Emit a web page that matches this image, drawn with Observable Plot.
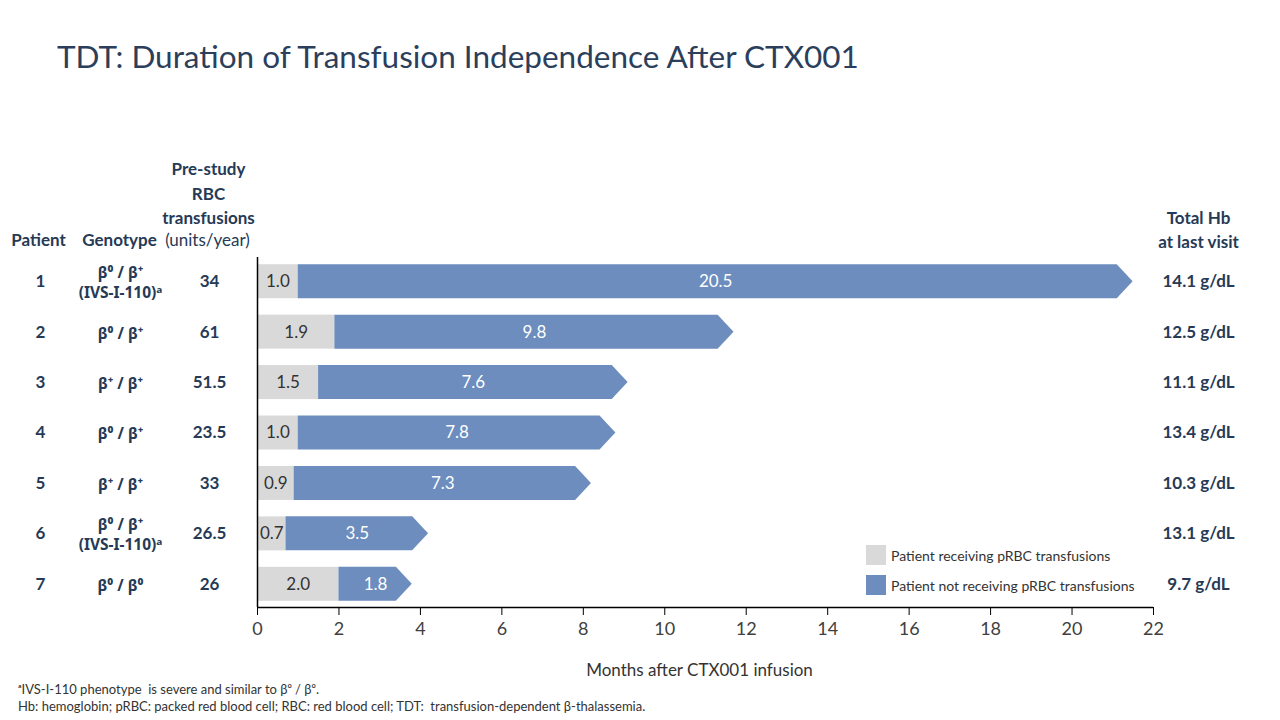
<!DOCTYPE html>
<html>
<head>
<meta charset="utf-8">
<script src="https://cdn.jsdelivr.net/npm/d3@7"></script>
<script src="https://cdn.jsdelivr.net/npm/@observablehq/plot@0.6"></script>
<style>
  html, body { margin: 0; padding: 0; background: #fff; }
  body { width: 1280px; height: 720px; position: relative; overflow: hidden;
         font-family: Lato, "Noto Sans", "Open Sans", sans-serif; }
  #title { position: absolute; left: 57px; top: 37px; font-size: 31.5px; color: #2b3f5c; white-space: nowrap; }
  #chart { position: absolute; left: 0; top: 140px; }
  #legend { position: absolute; left: 866px; top: 545px; font-size: 14px; color: #333; }
  #legend .row { display: flex; align-items: center; height: 20px; margin-bottom: 10px; white-space: nowrap; }
  #legend .sw { width: 20px; height: 20px; margin-right: 5px; }
  #notes { position: absolute; left: 18px; top: 681px; font-size: 13px; color: #333; line-height: 17px; white-space: nowrap; }
  .gen text { font-family: "Noto Sans", Lato, sans-serif; }
</style>
</head>
<body>
<div id="title">TDT: Duration of Transfusion Independence After CTX001</div>
<div id="chart"></div>
<div id="legend"></div>
<div id="notes">
  <div>ᵃIVS-I-110 phenotype&nbsp; is severe and similar to β⁰ / β⁰.</div>
  <div>Hb: hemoglobin; pRBC: packed red blood cell; RBC: red blood cell; TDT:&nbsp; transfusion-dependent β-thalassemia.</div>
</div>
<script>
// ---- data ----
const patients = [1, 2, 3, 4, 5, 6, 7];
const genotypes = [
  "β⁰ / β⁺\n(IVS-I-110)ᵃ",
  "β⁰ / β⁺",
  "β⁺ / β⁺",
  "β⁰ / β⁺",
  "β⁺ / β⁺",
  "β⁰ / β⁺\n(IVS-I-110)ᵃ",
  "β⁰ / β⁰"
];
const preStudyUnits = ["34", "61", "51.5", "23.5", "33", "26.5", "26"];
const monthsReceiving = [1.0, 1.9, 1.5, 1.0, 0.9, 0.7, 2.0];
const monthsNotReceiving = [20.5, 9.8, 7.6, 7.8, 7.3, 3.5, 1.8];
const totalHb = ["14.1 g/dL", "12.5 g/dL", "11.1 g/dL", "13.4 g/dL", "10.3 g/dL", "13.1 g/dL", "9.7 g/dL"];
const xTicks = [0, 2, 4, 6, 8, 10, 12, 14, 16, 18, 20, 22];
const seriesNames = ["Patient receiving pRBC transfusions", "Patient not receiving pRBC transfusions"];
const seriesColors = ["#d9d9d9", "#6c8dbd"];
const headerLeft = ["Patient", "Genotype"];
const headerPre = "Pre-study\nRBC\ntransfusions";
const headerUnits = "(units/year)";
const headerHb = "Total Hb\nat last visit";
const xLabel = "Months after CTX001 infusion";

// ---- derived tables ----
const rows = patients.map((p, i) => ({
  patient: p,
  genotype: genotypes[i],
  pre: preStudyUnits[i],
  recv: monthsReceiving[i],
  notRecv: monthsNotReceiving[i],
  total: monthsReceiving[i] + monthsNotReceiving[i],
  hb: totalHb[i]
}));

const half = 0.337;   // half bar thickness (y units)
const tip = 0.39;     // arrow tip depth (months)
const arrowPts = rows.flatMap(r => [
  {patient: r.patient, y: r.patient - half, x1: r.recv, x2: r.total - tip},
  {patient: r.patient, y: r.patient,        x1: r.recv, x2: r.total},
  {patient: r.patient, y: r.patient + half, x1: r.recv, x2: r.total - tip}
]);

const yDomain = [0.52, 7.46];
const navy = "#263a56";
const bold = "bold";
const mid = "middle";

const chart = Plot.plot({
  width: 1280,
  height: 540,
  marginTop: 117,
  marginBottom: 73,
  marginLeft: 257,
  marginRight: 127,
  style: {fontFamily: 'Lato, "Noto Sans", sans-serif', fontSize: "16px", color: "#333", overflow: "visible", background: "transparent"},
  x: {domain: [0, 22], axis: null},
  y: {domain: yDomain, reverse: true, axis: null},
  marks: [
    // gray segments
    Plot.rectX(rows, {x1: 0, x2: "recv", y1: d => d.patient - half, y2: d => d.patient + half, fill: seriesColors[0]}),
    // blue arrows
    Plot.areaX(arrowPts, {y: "y", x1: "x1", x2: "x2", z: "patient", fill: seriesColors[1], curve: "linear"}),
    // segment labels
    Plot.text(rows, {x: d => d.recv / 2, y: "patient", text: d => d.recv.toFixed(1), fill: "#333", fontSize: 17}),
    Plot.text(rows, {x: d => d.recv + d.notRecv / 2, y: "patient", text: d => d.notRecv.toFixed(1), fill: "#fff", fontSize: 17}),
    // axes lines
    Plot.ruleX([0], {stroke: "#000", strokeWidth: 1.5}),
    Plot.ruleY([yDomain[1]], {stroke: "#000", strokeWidth: 1.5}),
    Plot.axisX(xTicks, {tickSize: 8, tickPadding: 7, stroke: "#000", fill: "#404040", fontSize: 18, label: null, tickFormat: d => String(d)}),
    Plot.text([xLabel], {frameAnchor: "bottom", textAnchor: mid, lineAnchor: mid, dx: -6, dy: 63, text: d => d, fill: "#333", fontSize: 17}),
    // left table
    Plot.text(rows, {y: "patient", frameAnchor: "left", textAnchor: mid, dx: -217, text: d => String(d.patient), fill: navy, fontWeight: bold, fontSize: 17}),
    Plot.text(rows, {y: "patient", frameAnchor: "left", textAnchor: mid, dx: -137, text: "genotype", fill: navy, fontWeight: bold, fontSize: 15.5, lineHeight: 1.3, className: "gen"}),
    Plot.text(rows, {y: "patient", frameAnchor: "left", textAnchor: mid, dx: -48, text: "pre", fill: navy, fontWeight: bold, fontSize: 17}),
    // right column
    Plot.text(rows, {y: "patient", frameAnchor: "right", textAnchor: mid, dx: 45, text: "hb", fill: navy, fontWeight: bold, fontSize: 17}),
    // headers
    Plot.text([headerLeft[0]], {frameAnchor: "top-left", textAnchor: mid, lineAnchor: mid, dx: -219, dy: -17, text: d => d, fill: navy, fontWeight: bold, fontSize: 17}),
    Plot.text([headerLeft[1]], {frameAnchor: "top-left", textAnchor: mid, lineAnchor: mid, dx: -138, dy: -17, text: d => d, fill: navy, fontWeight: bold, fontSize: 17}),
    Plot.text([headerUnits], {frameAnchor: "top-left", textAnchor: mid, lineAnchor: mid, dx: -50, dy: -17, text: d => d, fill: navy, fontSize: 17}),
    Plot.text([headerPre], {frameAnchor: "top-left", textAnchor: mid, lineAnchor: mid, dx: -49, dy: -66, text: d => d, fill: navy, fontWeight: bold, fontSize: 17, lineHeight: 1.47}),
    Plot.text([headerHb], {frameAnchor: "top-right", textAnchor: mid, lineAnchor: mid, dx: 45, dy: -29, text: d => d, fill: navy, fontWeight: bold, fontSize: 17, lineHeight: 1.41})
  ]
});
document.getElementById("chart").appendChild(chart);

// legend
const legend = document.getElementById("legend");
seriesNames.forEach((name, i) => {
  const row = document.createElement("div");
  row.className = "row";
  const sw = document.createElement("div");
  sw.className = "sw";
  sw.style.background = seriesColors[i];
  const label = document.createElement("span");
  label.textContent = name;
  row.appendChild(sw);
  row.appendChild(label);
  legend.appendChild(row);
});
</script>
</body>
</html>
